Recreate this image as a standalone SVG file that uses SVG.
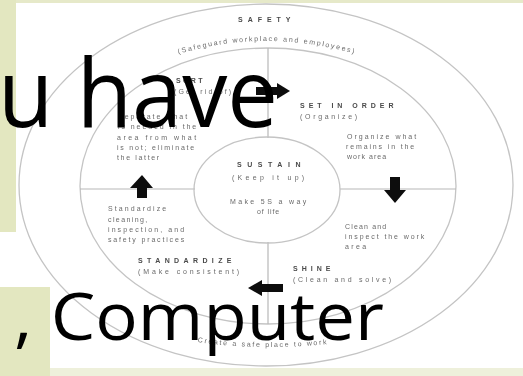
<svg xmlns="http://www.w3.org/2000/svg" width="523" height="376" viewBox="0 0 523 376">
<defs>
<filter id="soft" x="-5%" y="-5%" width="110%" height="110%"><feGaussianBlur stdDeviation="0.55"/></filter>
<style>
.ring{fill:none;stroke:#c4c4c4;stroke-width:1.3}
.div{stroke:#b8b8b8;stroke-width:1.2;fill:none}
.arr{fill:#111}
.h{font-family:"Liberation Sans",Arial,sans-serif;font-weight:bold;font-size:7px;fill:#4a4a4a;letter-spacing:1.5px}
.t{font-family:"Liberation Sans",Arial,sans-serif;font-size:7px;fill:#6a6a6a;letter-spacing:0.8px}
.arc{font-family:"Liberation Sans",Arial,sans-serif;font-size:7px;fill:#6a6a6a;letter-spacing:1.7px}
.big{font-family:"Open Sans","Noto Sans",sans-serif;fill:#000}
</style>
<path id="topArc" d="M 160 60 Q 266 22 374 60"/>
<path id="botArc" d="M 190 341 Q 262 352 336 343"/>
</defs>
<rect x="0" y="0" width="523" height="376" fill="#ffffff"/>
<rect x="0" y="0" width="523" height="3" fill="#e6e9c9"/>
<rect x="0" y="368" width="523" height="8" fill="#eef0db"/>
<rect x="0" y="0" width="16" height="232" fill="#e3e7c0"/>
<rect x="0" y="287" width="50" height="89" fill="#e3e7c0"/>
<g filter="url(#soft)">
<g id="safety">
<ellipse class="ring" cx="266" cy="185" rx="247" ry="181"/>
<text class="h" x="265" y="22" text-anchor="middle" textLength="54">SAFETY</text>
<text class="arc"><textPath href="#topArc" startOffset="50%" text-anchor="middle">(Safeguard workplace and employees)</textPath></text>
<text class="arc"><textPath href="#botArc" startOffset="50%" text-anchor="middle">Create a safe place to work</textPath></text>
</g>
<g id="cycle">
<ellipse class="ring" cx="268" cy="186" rx="188" ry="138"/>
</g>
<g id="connectors">
<line class="div" x1="268" y1="48" x2="268" y2="138"/>
<line class="div" x1="268" y1="242" x2="268" y2="324"/>
<line class="div" x1="80" y1="189" x2="195" y2="189"/>
<line class="div" x1="340" y1="189" x2="456" y2="189"/>
<path class="arr" d="M256 87 H277 V83 L290 91 L277 99 V95 H256 Z"/>
<path class="arr" d="M390 177 H400 V190 H406 L395 203 L384 190 H390 Z"/>
<path class="arr" d="M137 198 H147 V188 H153 L142 175 L130 188 H137 Z"/>
<path class="arr" d="M283 284 H262 V280 L248 288 L262 296 V292 H283 Z"/>
</g>
<g id="sustain">
<ellipse class="ring" cx="267" cy="190" rx="73" ry="53"/>
<text class="h" x="237" y="167" textLength="65">SUSTAIN</text>
<text class="t" x="232" y="180" textLength="73">(Keep it up)</text>
<text class="t" x="230" y="204" textLength="77">Make 5S a way</text>
<text class="t" x="257" y="214" textLength="23">of life</text>
</g>
<g id="sort">
<text class="h" x="176" y="83" textLength="28">SORT</text>
<text class="t" x="174" y="94" textLength="58">(Get rid of)</text>
<text class="t" x="118" y="119" textLength="70">Separate what</text>
<text class="t" x="118" y="129" textLength="79">is needed in the</text>
<text class="t" x="117" y="140" textLength="80">area from what</text>
<text class="t" x="117" y="150" textLength="78">is not; eliminate</text>
<text class="t" x="117" y="160" textLength="43">the latter</text>
</g>
<g id="set-in-order">
<text class="h" x="300" y="108" textLength="95">SET IN ORDER</text>
<text class="t" x="300" y="119" textLength="58">(Organize)</text>
<text class="t" x="347" y="139" textLength="70">Organize what</text>
<text class="t" x="346" y="149" textLength="69">remains in the</text>
<text class="t" x="347" y="159" textLength="40">work area</text>
</g>
<g id="shine">
<text class="t" x="345" y="229" textLength="42">Clean and</text>
<text class="t" x="345" y="239" textLength="80">inspect the work</text>
<text class="t" x="345" y="249" textLength="22">area</text>
<text class="h" x="293" y="271" textLength="39">SHINE</text>
<text class="t" x="293" y="282" textLength="99">(Clean and solve)</text>
</g>
<g id="standardize">
<text class="t" x="108" y="211" textLength="59">Standardize</text>
<text class="t" x="108" y="222" textLength="40">cleaning,</text>
<text class="t" x="108" y="232" textLength="77">inspection, and</text>
<text class="t" x="108" y="242" textLength="77">safety practices</text>
<text class="h" x="138" y="263" textLength="95">STANDARDIZE</text>
<text class="t" x="138" y="274" textLength="102">(Make consistent)</text>
</g>
</g>
<g id="overlay-text">
<text class="big" x="-2" y="127" font-size="96" textLength="280" lengthAdjust="spacingAndGlyphs">u have</text>
<text class="big" x="14" y="340" font-size="66" textLength="370" lengthAdjust="spacingAndGlyphs">, Computer</text>
</g>
</svg>
